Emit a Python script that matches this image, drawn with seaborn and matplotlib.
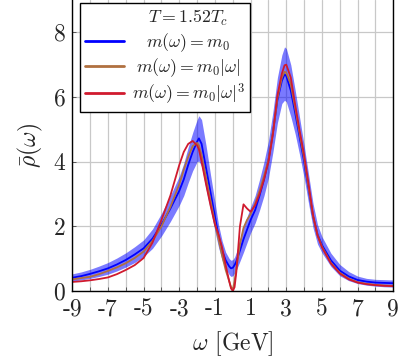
import numpy as np
import pandas as pd
import seaborn as sns
import matplotlib.pyplot as plt
from matplotlib.lines import Line2D
from matplotlib.transforms import Affine2D

# omega grid [GeV] and spectral functions
omega = [-9, -8.5, -8, -7.5, -7, -6.5, -6, -5.5, -5, -4.5, -4, -3.5, -3, -2.75, -2.5,
         -2.25, -2, -1.9, -1.75, -1.5, -1.25, -1, -0.8, -0.6, -0.4, -0.2, -0.1, 0,
         0.1, 0.2, 0.4, 0.6, 0.8, 1, 1.25, 1.5, 1.75, 2, 2.25, 2.5, 2.75, 2.9, 3,
         3.25, 3.5, 3.75, 4, 4.25, 4.5, 4.75, 5, 5.5, 6, 6.5, 7, 7.5, 8, 8.5, 9]

rho_const = [0.41, 0.46, 0.53, 0.61, 0.70, 0.82, 0.96, 1.13, 1.32, 1.62, 2.05, 2.55, 3.1, 3.45, 3.9,
             4.3, 4.62, 4.72, 4.55, 3.8, 3.05, 2.3, 1.7, 1.25, 0.95, 0.76, 0.70, 0.72,
             0.8, 0.92, 1.25, 1.6, 1.9, 2.2, 2.5, 2.95, 3.45, 4.05, 4.9, 5.9, 6.5, 6.70, 6.65,
             6.2, 5.5, 4.75, 4.0, 3.15, 2.3, 1.75, 1.42, 0.95, 0.63, 0.45, 0.34, 0.29, 0.26, 0.25, 0.24]

rho_lin = [0.36, 0.40, 0.44, 0.52, 0.62, 0.73, 0.86, 1.02, 1.22, 1.55, 2.0, 2.6, 3.3, 3.75, 4.15,
           4.48, 4.58, 4.5, 4.2, 3.5, 2.8, 2.1, 1.6, 1.1, 0.65, 0.3, 0.12, 0.05,
           0.3, 0.7, 1.45, 1.95, 2.2, 2.38, 2.7, 3.1, 3.55, 4.05, 4.9, 5.95, 6.6, 6.78, 6.75,
           6.4, 5.65, 4.85, 4.1, 3.2, 2.3, 1.72, 1.37, 0.87, 0.56, 0.38, 0.27, 0.22, 0.19, 0.17, 0.16]

rho_cub = [0.28, 0.30, 0.33, 0.37, 0.42, 0.52, 0.65, 0.80, 1.02, 1.5, 2.2, 2.95, 3.9, 4.3, 4.55,
           4.64, 4.5, 4.38, 4.0, 3.3, 2.65, 2.05, 1.75, 1.35, 0.8, 0.3, 0.08, 0.0,
           0.12, 0.6, 2.0, 2.68, 2.55, 2.45, 2.65, 3.0, 3.45, 4.0, 4.85, 6.05, 6.72, 6.98, 7.0,
           6.6, 5.75, 4.95, 4.2, 3.3, 2.35, 1.72, 1.35, 0.85, 0.54, 0.36, 0.26, 0.21, 0.18, 0.16, 0.15]

band_hi = [0.53, 0.59, 0.67, 0.77, 0.88, 1.02, 1.18, 1.37, 1.58, 1.92, 2.4, 2.95, 3.55, 3.95, 4.45,
           4.9, 5.3, 5.42, 5.3, 4.5, 3.6, 2.75, 2.05, 1.55, 1.2, 1.0, 0.95, 0.97,
           1.05, 1.2, 1.6, 2.0, 2.3, 2.6, 2.95, 3.45, 4.0, 4.65, 5.55, 6.6, 7.3, 7.55, 7.5,
           7.0, 6.2, 5.35, 4.5, 3.6, 2.7, 2.05, 1.68, 1.17, 0.82, 0.6, 0.46, 0.39, 0.36, 0.35, 0.34]

band_lo = [0.31, 0.34, 0.39, 0.45, 0.52, 0.62, 0.74, 0.88, 1.06, 1.32, 1.7, 2.15, 2.65, 2.95, 3.35,
           3.72, 4.0, 4.02, 3.85, 3.15, 2.5, 1.85, 1.35, 0.95, 0.7, 0.5, 0.45, 0.47,
           0.55, 0.65, 0.92, 1.2, 1.5, 1.8, 2.1, 2.5, 2.95, 3.5, 4.3, 5.2, 5.8, 5.9, 5.85,
           5.4, 4.85, 4.2, 3.5, 2.7, 1.95, 1.45, 1.18, 0.76, 0.47, 0.32, 0.23, 0.18, 0.15, 0.13, 0.12]

labels = [r"$m(\omega) = m_0$", r"$m(\omega) = m_0|\omega|$", r"$m(\omega) = m_0|\omega|^3$"]
colors = ["#0000ff", "#b07040", "#d01a2e"]

sns.set_theme(style="ticks")
plt.rcParams["font.family"] = "serif"
plt.rcParams["font.serif"] = ["cmr10", "DejaVu Serif"]
plt.rcParams["mathtext.fontset"] = "cm"
plt.rcParams["axes.unicode_minus"] = False
plt.rcParams["axes.formatter.use_mathtext"] = True

df = pd.DataFrame({"omega": omega, labels[0]: rho_const, labels[1]: rho_lin, labels[2]: rho_cub})
long = df.melt(id_vars="omega", var_name="mass", value_name="rho")

fig = plt.figure(figsize=(4.07, 3.6), dpi=100)
ax = fig.add_axes([0.1776, 0.1917, 0.7888, 0.8083])

ax.fill_between(omega, band_lo, band_hi, color="#0000ff", alpha=0.52, lw=0, zorder=1)
sns.lineplot(data=long, x="omega", y="rho", hue="mass", hue_order=labels,
             palette=colors, linewidth=1.3, ax=ax, legend=False, zorder=2)

ax.set_xlim(-9, 9)
ax.set_ylim(0, 9)
ax.set_xticks(np.arange(-9, 10, 1))
ax.set_xticklabels([str(v) if v % 2 else "" for v in range(-9, 10)])
ax.set_yticks([0, 2, 4, 6, 8])
ax.set_yticklabels(["0", "2", "4", "6", "8"])
ax.grid(True, color="#c8c8c8", linewidth=0.9)
ax.set_axisbelow(True)
ax.tick_params(direction="in", length=3, width=0.6, color="#444444", labelsize=17, pad=5)
for s in ["left", "bottom", "right"]:
    ax.spines[s].set_color("black")
    ax.spines[s].set_linewidth(1.0)
ax.spines["top"].set_visible(False)

ax.set_xlabel(r"$\omega$ [GeV]", fontsize=17)
ax.set_ylabel(r"$\bar{\rho}(\omega)$", fontsize=17)
ax.xaxis.set_label_coords(0.5, -0.13)
ax.yaxis.set_label_coords(-0.085, 0.5)

handles = [Line2D([], [], color="none")] + [Line2D([], [], color=c, lw=2.0) for c in colors]
leg = ax.legend(handles, [r"$T = 1.52T_c$"] + labels, loc="upper left",
                bbox_to_anchor=(0.024, 0.99), borderaxespad=0, fontsize=12.8,
                frameon=True, fancybox=False, framealpha=1, edgecolor="black",
                handlelength=2.2, handletextpad=0.4, labelspacing=0.15, borderpad=0.3)
leg.get_frame().set_linewidth(1.0)
leg.set_zorder(5)

# centre the entries inside the text column, like the original legend
fig.canvas.draw()
r = fig.canvas.get_renderer()
texts = leg.get_texts()
widths = [t.get_window_extent(r).width for t in texts]
wmax = max(widths)
for t, w in zip(texts, widths):
    t.set_transform(t.get_transform() + Affine2D().translate((wmax - w) / 2, 0))

fig.savefig("out.png", dpi=100)
